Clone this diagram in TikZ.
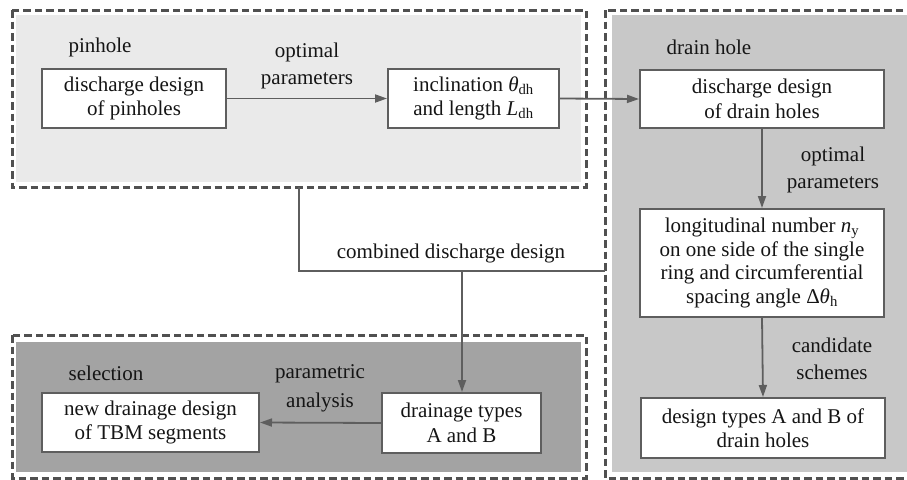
\documentclass[tikz,border=0pt]{standalone}
\usepackage{fontspec}
\setmainfont{Liberation Serif}
\usetikzlibrary{arrows.meta}
\definecolor{fillA}{HTML}{EAEAEA}
\definecolor{fillB}{HTML}{C8C8C8}
\definecolor{fillC}{HTML}{A3A3A3}
\definecolor{linegray}{HTML}{5E5E5E}
\definecolor{dashgray}{HTML}{505050}
\definecolor{textc}{HTML}{151515}
\newcommand{\sym}[2]{{\itshape #1}\textsubscript{#2}}
\begin{document}
\begin{tikzpicture}[x=1pt,y=-1pt,
  box/.style={draw=linegray, line width=2pt, fill=white, inner sep=0pt, align=center,
    text=textc, font=\fontsize{21}{24.5}\selectfont},
  lbl/.style={inner sep=0pt, align=center, text=textc, font=\fontsize{21}{27}\selectfont},
  conn/.style={draw=linegray, line width=1.8pt},
  arr/.style={conn, -{Triangle[length=12pt,width=8pt]}},
  grp/.style={draw=dashgray, line width=3pt, dash pattern=on 7.5pt off 4pt},
]
\useasboundingbox (0,0) rectangle (907,479);
% group frames and fills
\fill[fillA] (16,15) rectangle (581,182);
\draw[grp] (12,10) rectangle (586,187);
\fill[fillB] (612,15) rectangle (930,472);
\draw[grp] (605,10) rectangle (930,478);
\fill[fillC] (16,342) rectangle (581,472);
\draw[grp] (12,335) rectangle (586,478);

% boxes
\node[box, minimum width=184pt, minimum height=59pt] (b1) at (134,98.5) {discharge design\\of pinholes};
\node[box, minimum width=171pt, minimum height=59pt] (b2) at (473.5,98.5) {inclination \sym{θ}{dh}\\and length \sym{L}{dh}};
\node[box, minimum width=244pt, minimum height=58pt] (d1) at (762,99) {discharge design\\of drain holes};
\node[box, minimum width=244pt, minimum height=108pt, font=\fontsize{21}{23.7}\selectfont] (d2) at (762,263)
  {longitudinal number \sym{n}{y}\\on one side of the single\\ring and circumferential\\spacing angle Δ\sym{θ}{h}};
\node[box, minimum width=244pt, minimum height=60pt] (d3) at (763,428) {design types A and B of\\drain holes};
\node[box, minimum width=217pt, minimum height=59pt] (s1) at (150.5,422.5) {new drainage design\\of TBM segments};
\node[box, minimum width=159pt, minimum height=60pt] (t1) at (461.5,423) {drainage types\\A and B};

% labels
\node[lbl] (lpin) at (100,47) {pinhole};
\node[lbl] (lopt1) at (307,66) {optimal\\parameters};
\node[lbl] (ldrain) at (709,47) {drain hole};
\node[lbl] (lopt2) at (833,170) {optimal\\parameters};
\node[lbl] (lcand) at (832,359) {candidate\\schemes};
\node[lbl] (lcomb) at (451,253) {combined discharge design};
\node[lbl] (lsel) at (106,373) {selection};
\node[lbl, font=\fontsize{21}{29}\selectfont] (lpar) at (320,388) {parametric\\analysis};

% connectors
\draw[arr] (b1.east) -- (b2.west);
\draw[arr] (b2.east) -- (d1.west);
\draw[arr] (d1.south) -- (d2.north);
\draw[arr] (d2.south) -- (d3.north);
\draw[arr] (t1.west) -- (s1.east);
\coordinate (cA) at (299,187);
\coordinate (cB) at (605,271);
\coordinate (cJ) at (462,271);
\draw[conn] (cA) |- (cB);
\draw[arr] (cJ) -- (cJ |- t1.north);
\end{tikzpicture}
\end{document}
